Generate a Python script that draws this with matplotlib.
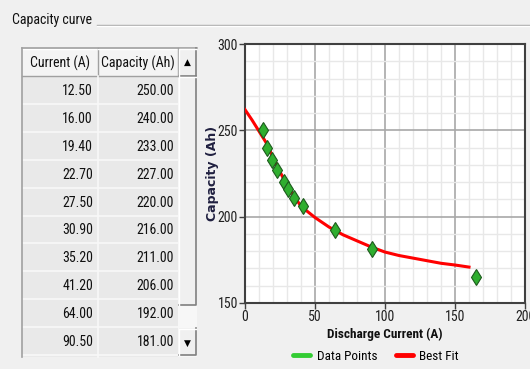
import matplotlib
matplotlib.use('agg')
import matplotlib.pyplot as plt
from matplotlib import font_manager
from matplotlib.patches import Rectangle
from matplotlib.lines import Line2D

# measured discharge data (current in A, capacity in Ah)
current = [12.5, 16.0, 19.4, 22.7, 27.5, 30.9, 35.2, 41.2, 64.0, 90.5, 165.0]
capacity = [250.0, 240.0, 233.0, 227.0, 220.0, 216.0, 211.0, 206.0, 192.0, 181.0, 165.0]

# best fit curve samples
fit_current = [0, 5, 10, 15, 20, 25, 30, 35, 40, 50, 60, 70, 80, 90, 100,
               110, 120, 130, 140, 150, 160]
fit_capacity = [262.0, 256.0, 249.5, 243.0, 234.5, 226.0, 218.0, 212.0, 206.0,
                199.5, 194.0, 189.5, 186.0, 182.5, 179.5, 177.5, 176.0, 174.5,
                173.0, 172.0, 170.8]

table_headers = ["Current (A)", "Capacity (Ah)"]
visible_rows = 10

x_ticks = [0, 50, 100, 150, 200]
y_ticks = [150, 200, 250, 300]


def pick_font(names):
    for name in names:
        try:
            font_manager.findfont(name, fallback_to_default=False)
            return name
        except Exception:
            pass
    return None


narrow = pick_font(["Liberation Sans Narrow", "DejaVu Sans Condensed", "Roboto Condensed",
                    "Open Sans Condensed"])
if narrow is None:
    narrow = "Liberation Sans"
    fs = 8.5
else:
    fs = 10

W, H = 530, 369
fig = plt.figure(figsize=(W / 100, H / 100), dpi=100, facecolor="#f0f0f0")

# pixel space canvas for the group box and the table
bg = fig.add_axes([0, 0, 1, 1])
bg.set_xlim(0, W)
bg.set_ylim(H, 0)
bg.axis("off")

bg.text(12, 20, "Capacity curve", fontsize=fs, family=narrow, va="center", ha="left", color="#101010")
bg.plot([97, W], [25, 25], color="#a8a8a8", lw=1)
bg.plot([97, W], [26, 26], color="#ffffff", lw=1)

# table
tx0, tx1, tx2, sx1 = 22, 98, 178, 197
hy0, hy1 = 48, 76
row_h = 27.9

# header
bg.add_patch(Rectangle((tx0, hy0), tx2 - tx0, hy1 - hy0, facecolor="#f4f4f4", edgecolor="none"))
for xa, xb, label in [(tx0, tx1, table_headers[0]), (tx1, tx2, table_headers[1])]:
    bg.plot([xa, xb], [hy0 + 0.5, hy0 + 0.5], color="#ffffff", lw=1)
    bg.plot([xb - 0.5, xb - 0.5], [hy0, hy1], color="#a0a0a0", lw=1)
    bg.plot([xa, xb], [hy1 - 0.5, hy1 - 0.5], color="#a0a0a0", lw=1)
    bg.text((xa + xb) / 2, (hy0 + hy1) / 2 + 1, label, fontsize=fs, family=narrow,
            ha="center", va="center", color="#101010")

# body rows
body_bottom = hy1 + row_h * visible_rows
bg.add_patch(Rectangle((tx0, hy1), tx2 - tx0, body_bottom - hy1 + 2, facecolor="#e9e9e9", edgecolor="none"))
for i in range(visible_rows):
    yc = hy1 + row_h * (i + 0.5)
    yb = hy1 + row_h * (i + 1)
    bg.plot([tx0, tx2], [yb, yb], color="#f8f8f8", lw=1.2)
    bg.text(tx1 - 5, yc + 1, "%.2f" % current[i], fontsize=fs, family=narrow,
            ha="right", va="center", color="#101010")
    bg.text(tx2 - 4, yc + 1, "%.2f" % capacity[i], fontsize=fs, family=narrow,
            ha="right", va="center", color="#101010")
bg.plot([tx1, tx1], [hy1, body_bottom + 2], color="#f8f8f8", lw=1.2)
bg.plot([tx0, tx0], [hy0, body_bottom + 2], color="#a0a0a0", lw=1.2)
bg.plot([tx0, sx1], [hy0, hy0], color="#a0a0a0", lw=1.2)

# scrollbar
bg.add_patch(Rectangle((tx2, hy0), sx1 - tx2, body_bottom - hy0 + 2, facecolor="#f7f7f7", edgecolor="none"))
thumb_bottom = 305
down_top = 328


def button(y0, y1):
    bg.add_patch(Rectangle((tx2 + 1, y0), sx1 - tx2 - 2, y1 - y0, facecolor="#f0f0f0", edgecolor="none"))
    bg.plot([tx2 + 1, sx1 - 1, sx1 - 1], [y1 - 0.5, y1 - 0.5, y0], color="#808080", lw=1.2)
    bg.plot([tx2 + 1, tx2 + 1, sx1 - 1], [y1, y0 + 0.5, y0 + 0.5], color="#ffffff", lw=1)


button(hy0, hy1)
button(hy1, thumb_bottom)
button(down_top, body_bottom)
bg.text((tx2 + sx1) / 2, (hy0 + hy1) / 2, "\u25b2", fontsize=6.5, ha="center", va="center", color="#000000")
bg.text((tx2 + sx1) / 2, (down_top + body_bottom) / 2 + 2, "\u25bc", fontsize=6.5, ha="center", va="center", color="#000000")

# chart
ax_l, ax_r, ax_t, ax_b = 245, 525, 44, 303
ax = fig.add_axes([ax_l / W, 1 - ax_b / H, (ax_r - ax_l) / W, (ax_b - ax_t) / H])
ax.set_facecolor("#ffffff")
ax.set_xlim(0, 200)
ax.set_ylim(150, 300)
ax.set_xticks(x_ticks)
ax.set_yticks(y_ticks)
ax.set_xticks(range(0, 201, 10), minor=True)
ax.set_yticks(range(150, 301, 10), minor=True)
ax.grid(which="minor", color="#e8e8e8", lw=1)
ax.grid(which="major", color="#a8a8a8", lw=1.2)
ax.set_axisbelow(True)
for side in ["left", "bottom", "top", "right"]:
    ax.spines[side].set_color("#404040")
    ax.spines[side].set_linewidth(1.5)
ax.tick_params(which="major", direction="out", length=4, width=1, color="#404040",
               labelsize=fs, pad=1, labelcolor="#202020")
ax.tick_params(which="minor", length=0)
for lbl in ax.get_xticklabels() + ax.get_yticklabels():
    lbl.set_family(narrow)

fit_line, = ax.plot(fit_current, fit_capacity, color="#ff0000", lw=2.2, zorder=3)
points, = ax.plot(current, capacity, linestyle="none", marker="d", markersize=8,
                  markerfacecolor="#2fae2f", markeredgecolor="#1d5a1d", markeredgewidth=0.8, zorder=4)

ax.set_xlabel("Discharge Current (A)", fontsize=fs - 0.5, family=narrow, fontweight="bold",
              color="#101010", labelpad=3)
ax.set_ylabel("Capacity (Ah)", fontsize=9, family="DejaVu Sans", fontweight="bold",
              color="#202040", labelpad=-1)

handles = [Line2D([], [], color="#33cc33", lw=3.5, solid_capstyle="round"),
           Line2D([], [], color="#ff0000", lw=3.5, solid_capstyle="round")]
fig.legend(handles, ["Data Points", "Best Fit"], loc="center", ncol=2,
           bbox_to_anchor=(376 / W, 1 - 356 / H), frameon=False,
           prop={"family": narrow, "size": fs - 0.5}, handlelength=1.3, handletextpad=0.5,
           columnspacing=1.4)

fig.savefig("out.png", dpi=100, facecolor=fig.get_facecolor())
